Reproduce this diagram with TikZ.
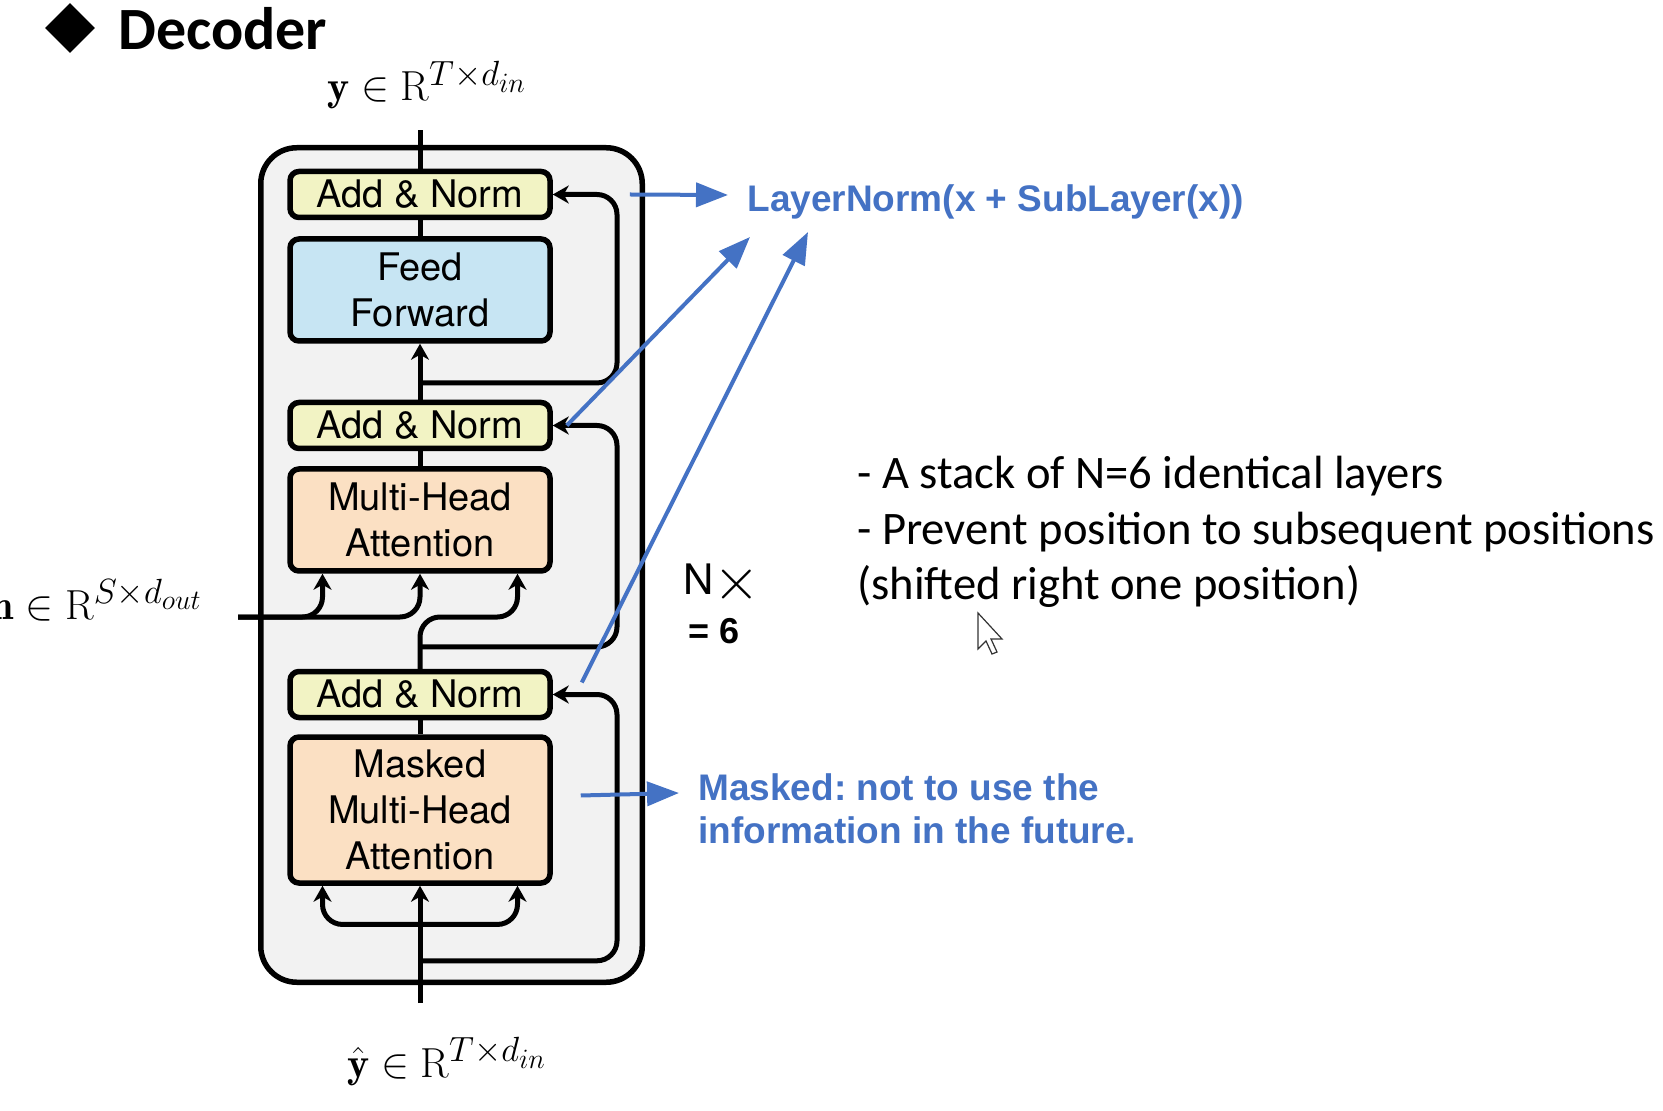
\RequirePackage{fix-cm}
\documentclass[tikz,border=0pt]{standalone}
\usepackage{fontspec}
\usepackage{amsmath}
\usetikzlibrary{arrows.meta,positioning,shapes.geometric,calc}
\newfontfamily\helv{TeX Gyre Heros}
\newfontfamily\calib{Carlito}
\newfontfamily\arial{Liberation Sans}
\DeclareMathSizes{21}{21}{17.5}{14}
\frenchspacing
\definecolor{panel}{HTML}{F2F2F2}
\definecolor{normfill}{HTML}{F2F3C4}
\definecolor{fffill}{HTML}{C7E5F3}
\definecolor{attfill}{HTML}{FBE0C3}
\definecolor{note}{HTML}{4472C4}

\begin{document}
\begin{tikzpicture}[x=0.5pt,y=-0.5pt,box/.style={rectangle,draw,line width=2.75pt,rounded corners=4.5pt,minimum width=130pt,align=center,inner sep=0pt,font=\helv\fontsize{19}{23}\selectfont},addnorm/.style={box,fill=normfill,minimum height=23pt},ffbox/.style={box,fill=fffill,minimum height=51pt},attbox/.style={box,fill=attfill,minimum height=51pt},wire/.style={line width=2.5pt},arrow/.style={wire,-{Stealth[length=8pt,width=9pt,inset=2.5pt]}},resid/.style={arrow,rounded corners=10pt},notearrow/.style={note,line width=2pt,-{Triangle[length=16pt,width=12pt]}},notetext/.style={note,font=\arial\bfseries\fontsize{18.5}{21.5}\selectfont,inner sep=0pt,align=left}]
\useasboundingbox (0,0) rectangle (1663,1111);
\node[draw,fill=panel,line width=2.75pt,rounded corners=18pt,minimum width=190.75pt,minimum height=417.25pt] (blk) at (451.5,565) {};
% decoder layer
\node[addnorm] (an1) at (420,194.5) {Add \& Norm};
\node[ffbox,below=8pt of an1] (ff) {Feed\\Forward};
\node[addnorm,below=28pt of ff] (an2) {Add \& Norm};
\node[attbox,below=7.5pt of an2] (mha) {Multi-Head\\Attention};
\node[addnorm,below=47.5pt of mha] (an3) {Add \& Norm};
\node[attbox,minimum height=73pt,below=7pt of an3] (mmha) {Masked\\Multi-Head\\Attention};
\coordinate (rx) at (617,0);
\coordinate (sp1) at ($(an2.north)!0.3!(ff.south)$);
\coordinate (sp2) at ($(an3.north)!0.23!(mha.south)$);
\coordinate (yout) at (420,130);
\coordinate (yin) at (420,1003);
\coordinate (sp3) at ($(mmha.south)!0.64!(yin)$);
\coordinate (sp4) at ($(mmha.south)!0.33!(yin)$);
\coordinate (kv) at (0,617);
\coordinate (mem) at (238,617);
\coordinate (mk) at ([xshift=-48.75pt]mha.south);
\coordinate (mq) at ([xshift=48.75pt]mha.south);
\coordinate (mk2) at ([xshift=-48.75pt]mmha.south);
\coordinate (mq2) at ([xshift=48.75pt]mmha.south);
\draw[wire] (an1.north) -- (yout);
\draw[wire] (ff.north) -- (an1.south);
\draw[arrow] (an2.north) -- (ff.south);
\draw[wire] (mha.north) -- (an2.south);
\draw[wire] (mmha.north) -- (an3.south);
\draw[resid] (sp1) -- (sp1 -| rx) |- (an1.east);
\draw[resid] (sp2) -- (sp2 -| rx) |- (an2.east);
\draw[resid] (sp3) -- (sp3 -| rx) |- (an3.east);
\draw[resid] (an3.north) |- (kv -| mq) -- (mq);
\draw[resid] (mem) -| (mk);
\draw[resid] (mem) -| (mha.south);
\draw[arrow] (yin) -- (mmha.south);
\draw[resid] (sp4) -| (mk2);
\draw[resid] (sp4) -| (mq2);
% labels
\node[diamond,fill,aspect=1,inner sep=0pt,minimum size=25pt] (dmd) at (70,28) {};
\node[anchor=base west,inner sep=0pt,font=\calib\bfseries\fontsize{30}{36}\selectfont] (ttl) at (118,50) {Decoder};
\node[anchor=base,inner sep=0pt,font=\fontsize{21}{25}\selectfont] (ylab) at (427,101) {$\mathbf{y}\in\mathrm{R}^{T\times d_{in}}$};
\node[anchor=base,inner sep=0pt,font=\fontsize{21}{25}\selectfont] (yhat) at (447,1077) {$\hat{\mathbf{y}}\in\mathrm{R}^{T\times d_{in}}$};
\node[anchor=base east,inner sep=0pt,font=\fontsize{21}{25}\selectfont] (hlab) at (203,619) {$\mathbf{h}\in\mathrm{R}^{S\times d_{out}}$};
\node[anchor=base west,inner sep=0pt,font=\helv\fontsize{21}{25}\selectfont] (nx) at (683,595) {N{\fontsize{30}{30}\selectfont\raisebox{-2.25pt}{$\times$}}};
\node[anchor=base west,inner sep=0pt,font=\arial\bfseries\fontsize{18}{22}\selectfont] (nsix) at (688,643) {= 6};
\node[notetext,anchor=base west] (ln) at (747,212) {LayerNorm(x + SubLayer(x))};
\node[notetext,anchor=base west] (mtxt) at (698,843) {Masked: not to use the\\information in the future.};
\node[anchor=base west,inner sep=0pt,align=left,font=\calib\fontsize{23.3}{27.5}\selectfont] (facts) at (857,599) {- A stack of N=6 identical layers\\- Prevent position to subsequent positions\\(shifted right one position)};
% blue notes
\coordinate (lnin) at (728,195);
\coordinate (lntipa) at (750,237);
\coordinate (lntipb) at (808,232);
\coordinate (mkin) at (679,793);
\draw[notearrow] ([xshift=38.5pt]an1.east) -- (lnin);
\draw[notearrow] ([xshift=7pt]an2.east) -- (lntipa);
\draw[notearrow] ([xshift=14.5pt,yshift=6pt]an3.east) -- (lntipb);
\draw[notearrow] ([xshift=14pt,yshift=7.25pt]mmha.east) -- (mkin);
\draw[line width=0.6pt,draw=black!80,fill=white] (978,613) -- ++(0,36) -- ++(8,-8) -- ++(6,13) -- ++(5,-2) -- ++(-6,-13) -- ++(11,0) -- cycle;
\end{tikzpicture}
\end{document}
